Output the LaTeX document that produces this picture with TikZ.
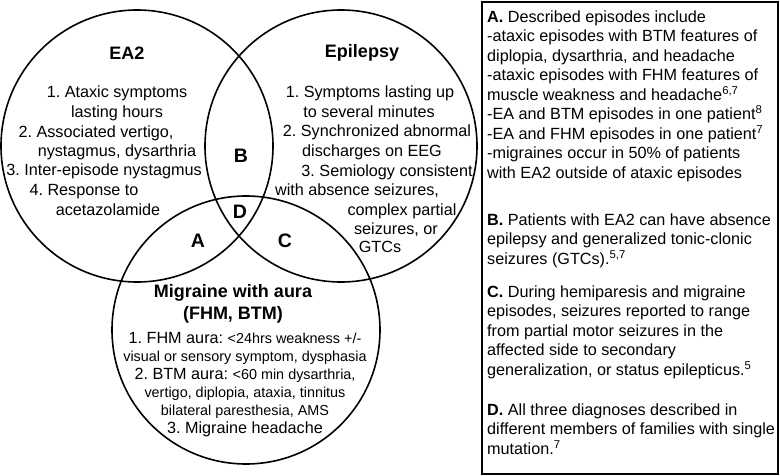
\documentclass[tikz,border=0pt]{standalone}
\usepackage{fontspec}
\setmainfont{Liberation Sans}
\usepackage{tikz}

\newcommand\venntext{\fontsize{16.2}{19.5}\selectfont}
\newcommand\vennsmall{\fontsize{14.4}{18}\selectfont}
\frenchspacing

\begin{document}
\begin{tikzpicture}[x=1pt,y=-1pt,
    venn/.style={line width=1.6pt},
    frame/.style={line width=1.5pt},
    heading/.style={font=\fontsize{18}{22}\selectfont\bfseries, align=center, inner sep=0pt},
    item/.style={font=\venntext, inner sep=0pt, text height=11.8pt, text depth=3.4pt},
    region/.style={font=\fontsize{19.5}{22}\selectfont\bfseries, inner sep=0pt},
    note/.style={font=\venntext, align=left, inner sep=0pt, anchor=north west}]

  \useasboundingbox (0,0) rectangle (780,476);

  % the three sets
  \coordinate (ea2) at (137,146);
  \coordinate (epi) at (341,146);
  \coordinate (mig) at (246,330);

  \draw[venn] (ea2) circle (136pt)
              (epi) circle (136pt)
              (mig) circle (134pt);

  % set titles
  \node[heading] (ea2-title) at (127,53) {EA2};
  \node[heading] (epi-title) at (362,53) {Epilepsy};
  \node[heading] (mig-title) at (233,304) {Migraine with aura\\(FHM, BTM)};

  % overlap regions
  \node[region] (reg-a) at (198,241) {A};
  \node[region] (reg-b) at (241,156) {B};
  \node[region] (reg-c) at (285,241) {C};
  \node[region] (reg-d) at (240,212) {D};

  % EA2 features, line by line
  \foreach \x/\y/\txt [count=\idx] in {
      117/93/{1. Ataxic symptoms},
      117/113/{lasting hours},
      96/133/{2. Associated vertigo,},
      117/152/{nystagmus, dysarthria},
      104/171/{3. Inter-episode nystagmus},
      84/191/{4. Response to},
      108/211/{acetazolamide}}
    \node[item] (ea2-\idx) at (\x,\y) {\txt};

  % epilepsy features
  \foreach \x/\y/\txt [count=\idx] in {
      370/93/{1. Symptoms lasting up},
      369/113/{to several minutes},
      377/132/{2. Synchronized abnormal},
      372/152/{discharges on EEG},
      387/172/{3. Semiology consistent},
      357/191/{with absence seizures,},
      402/211/{complex partial},
      396/230/{seizures, or},
      380/248/{GTCs}}
    \node[item] (epi-\idx) at (\x,\y) {\txt};

  % migraine features
  \node[font=\fontsize{16.2}{18}\selectfont, align=center, inner sep=0pt] (mig-list) at (245,385)
    {1. FHM aura: {\vennsmall <24hrs weakness +/-}\\
     {\vennsmall visual or sensory symptom, dysphasia}\\
     2. BTM aura: {\vennsmall <60 min dysarthria,}\\
     {\vennsmall vertigo, diplopia, ataxia, tinnitus}\\
     {\vennsmall bilateral paresthesia, AMS}\\
     3. Migraine headache};

  % notes on the right
  \draw[frame] (482,2) rectangle (778,474);

  \node[note] (note-a) at (487,10.5)
    {\textbf{A.} Described episodes include\\
     -ataxic episodes with BTM features of\\
     diplopia, dysarthria, and headache\\
     -ataxic episodes with FHM features of\\
     muscle weakness and headache\textsuperscript{6,7}\\
     -EA and BTM episodes in one patient\textsuperscript{8}\\
     -EA and FHM episodes in one patient\textsuperscript{7}\\
     -migraines occur in 50\% of patients\\
     with EA2 outside of ataxic episodes};

  \node[note] (note-b) at (487,213.5)
    {\textbf{B.} Patients with EA2 can have absence\\
     epilepsy and generalized tonic-clonic\\
     seizures (GTCs).\textsuperscript{5,7}};

  \node[note] (note-c) at (487,285.5)
    {\textbf{C.} During hemiparesis and migraine\\
     episodes, seizures reported to range\\
     from partial motor seizures in the\\
     affected side to secondary\\
     generalization, or status epilepticus.\textsuperscript{5}};

  \node[note] (note-d) at (487,403.5)
    {\textbf{D.} All three diagnoses described in\\
     different members of families with single\\
     mutation.\textsuperscript{7}};
\end{tikzpicture}
\end{document}
